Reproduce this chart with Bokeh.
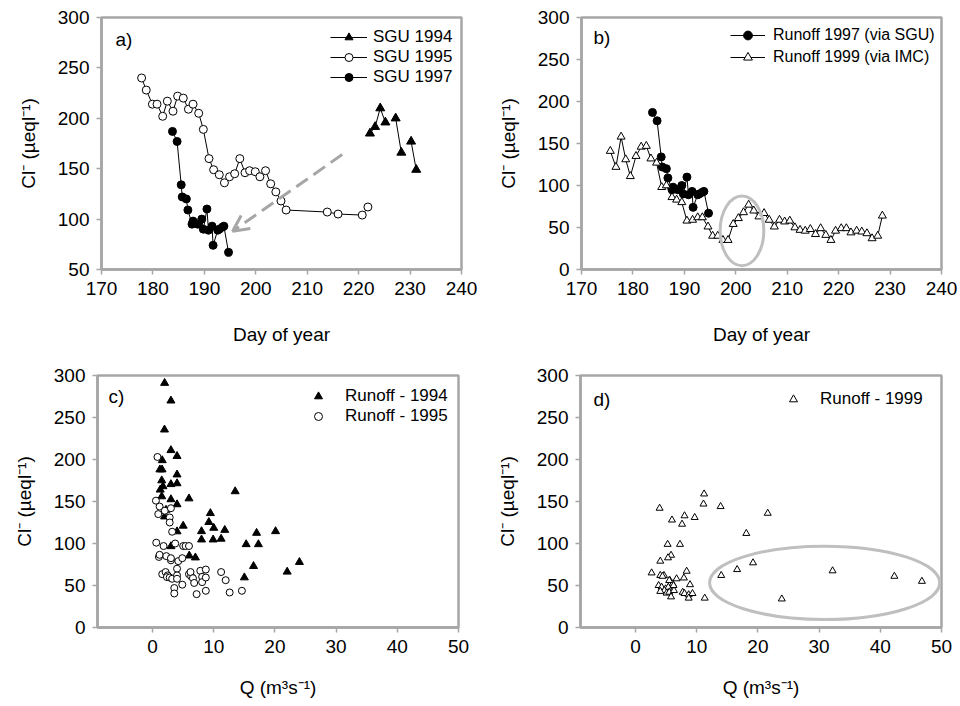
from bokeh.plotting import figure
from bokeh.layouts import column, row
from bokeh.models import Range1d, Legend, LegendItem, Label, Arrow, OpenHead, FixedTicker
from bokeh.embed import file_html
from bokeh.resources import INLINE

# ---------------- data ----------------
# panel a
sgu94_day = [222.2, 223.2, 224.2, 225.2, 227.2, 228.3, 230.2, 231.2]
sgu94_cl = [185, 191.5, 210, 196, 200, 166, 177, 149]
sgu94_seg = [0, 0, 0, 0, 1, 1, 2, 2]

sgu95_day = [177.8, 178.7, 179.9, 180.8, 181.9, 182.8, 183.9, 184.8, 185.9, 186.9, 187.8,
             188.9, 189.8, 190.9, 191.8, 192.9, 193.9, 194.9, 195.9, 196.9, 197.9, 198.8,
             199.9, 200.8, 201.9, 202.9, 203.9, 204.9, 205.9, 213.9, 216.0, 220.7, 221.8]
sgu95_cl = [240, 228, 214, 214, 202, 217, 207, 222, 220, 209, 214, 205, 189, 160, 149, 144,
            136, 142, 145, 160, 146, 148, 147, 142, 148, 135, 127, 118, 109, 107, 105, 104, 112]

sgu97_day = [183.8, 184.7, 185.5, 185.7, 186.5, 186.8, 187.6, 187.8, 188.7, 189.5, 189.8,
             190.5, 190.8, 191.5, 191.7, 192.6, 192.9, 193.5, 193.8, 194.7]
sgu97_cl = [187, 177, 134, 122, 120, 109, 95, 98, 95, 100, 90, 110, 89, 93, 74, 89, 90, 92, 93, 67]

# panel b
run99_day = [175.6, 176.7, 177.7, 178.6, 179.5, 180.6, 181.6, 182.6, 183.5, 184.6, 185.6,
             186.5, 187.6, 188.5, 189.5, 190.5, 191.6, 192.6, 193.5, 194.6, 195.5, 196.5,
             197.5, 198.5, 199.5, 200.5, 201.5, 202.5, 203.5, 204.5, 205.5, 206.5, 207.5,
             208.5, 209.5, 210.5, 211.5, 212.5, 213.5, 214.5, 215.5, 216.5, 217.5, 218.5,
             219.4, 220.5, 221.5, 222.4, 223.5, 224.5, 225.5, 226.5, 227.6, 228.5]
run99_cl = [141, 122, 158, 131, 111, 135, 146, 147, 132, 127, 98, 100, 86, 83, 80, 58, 59,
            62, 62, 51, 40, 40, 35, 35, 54, 61, 68, 77, 70, 63, 67, 59, 51, 59, 57, 58, 50,
            47, 46, 48, 42, 49, 41, 35, 46, 49, 49, 44, 46, 45, 43, 37, 40, 64]

# panel c
q94 = [1.97, 3.0, 1.95, 3.0, 4.0, 1.58, 1.2, 1.55, 4.0, 1.5, 3.0, 4.0, 1.7, 1.25, 1.5, 3.0,
       5.95, 4.0, 2.2, 1.97, 13.5, 9.45, 9.2, 10.0, 5.0, 4.0, 8.0, 11.8, 8.0, 9.9, 11.2, 17.0,
       20.1, 15.3, 17.3, 3.0, 6.0, 7.0, 16.5, 22.0, 24.0, 15.0]
cl94 = [291, 270, 235.5, 211, 204, 199, 188, 188, 182, 175, 170.5, 171.5, 168, 164, 156,
        152.5, 153.5, 146.5, 140, 132, 162, 136, 125.4, 118.5, 121, 114.3, 114.5, 116, 104.6,
        104.6, 105.5, 112.5, 114.5, 99, 99, 96.6, 85.5, 83.2, 73, 66.3, 77.8, 59.5]
q95 = [0.8, 0.55, 1.15, 0.93, 2.0, 3.0, 2.8, 2.8, 3.2, 0.6, 1.8, 3.7, 5.0, 5.4, 5.95, 1.04,
       1.15, 2.24, 3.0, 3.0, 4.2, 4.86, 4.0, 1.58, 2.13, 2.46, 2.35, 2.8, 3.2, 4.0, 4.0, 5.95,
       6.3, 6.2, 6.6, 6.8, 7.8, 8.1, 8.1, 8.7, 8.7, 11.2, 11.95, 4.86, 3.55, 3.55, 7.2, 8.7,
       12.6, 14.6]
cl95 = [203, 151, 144, 135, 139, 142, 131, 125, 114, 101, 97, 100, 97, 97, 97, 84, 86.5, 85,
        80, 82.5, 79, 82.5, 70, 63.5, 66, 62, 60, 59.5, 58, 62, 58, 63.5, 61, 66, 58.7, 53,
        67.5, 60.3, 54, 69, 59.5, 66, 56.3, 51, 47, 40.5, 39.7, 43.7, 41.7, 43.7]

# panel d
q99 = [3.93, 5.95, 7.6, 8.0, 9.66, 11.1, 11.2, 13.9, 21.6, 18.1, 5.24, 7.26, 5.8, 5.3, 4.04,
       2.62, 4.04, 4.64, 8.35, 7.9, 6.7, 5.6, 6.06, 8.9, 3.77, 4.26, 4.9, 5.35, 4.7, 4.04, 5.08,
       5.5, 6.28, 5.8, 7.7, 8.0, 8.68, 9.3, 8.68, 11.3, 14.0, 16.6, 19.2, 23.9, 32.2, 42.3,
       46.8, 5.5, 6.2, 4.4]
cl99 = [142, 128, 123, 133, 131, 147, 159, 144, 136, 112, 99, 99, 86, 83, 79, 65, 62, 62, 67,
        59, 58, 56, 52, 51, 50, 48, 46, 48, 44, 43, 41, 42, 44, 36.5, 42, 40.5, 39, 40.5, 35,
        35, 62, 69, 77, 34, 67.5, 61, 55, 56, 50, 61]

# annotations (data units)
arrow_from = (216.8, 164)
arrow_to = (195.5, 88)
ellipse_b = dict(x=201.2, y=46, w=8.5, h=83)
ellipse_d = dict(x=30.9, y=53.2, w=37.6, h=87.3)

# ---------------- style ----------------
FONT = "Liberation Sans"
GRAY = "#a6a6a6"
TICK_FS = "19px"
LAB_FS = "19px"
LEG_FS = "17px"
Y_LABEL = "Cl\u207b (\u00b5eql\u207b\u00b9)"


def make_fig(xr, yr, xticks, yticks, xlabel, fw, bl, br, bt, bb, xstand):
    p = figure(frame_width=fw, frame_height=252, x_range=Range1d(*xr), y_range=Range1d(*yr),
               output_backend="svg", toolbar_location=None,
               min_border_left=bl, min_border_right=br, min_border_top=bt, min_border_bottom=bb)
    p.grid.visible = False
    p.outline_line_color = GRAY
    p.outline_line_width = 2.5
    p.background_fill_color = "white"
    p.border_fill_color = "white"
    p.xaxis.ticker = FixedTicker(ticks=xticks)
    p.yaxis.ticker = FixedTicker(ticks=yticks)
    for ax in (p.xaxis[0], p.yaxis[0]):
        ax.axis_line_color = GRAY
        ax.axis_line_width = 2.5
        ax.major_tick_line_color = GRAY
        ax.major_tick_line_width = 1.5
        ax.major_tick_out = 5
        ax.major_tick_in = 0
        ax.minor_tick_line_color = None
        ax.major_label_text_font = FONT
        ax.major_label_text_font_size = TICK_FS
        ax.major_label_text_color = "black"
        ax.major_label_standoff = 7
        ax.axis_label_text_font = FONT
        ax.axis_label_text_font_size = LAB_FS
        ax.axis_label_text_font_style = "normal"
        ax.axis_label_text_color = "black"
    p.xaxis.axis_label = xlabel
    p.xaxis.axis_label_standoff = xstand
    p.yaxis.axis_label = Y_LABEL
    p.yaxis.axis_label_standoff = 16
    return p


def panel_label(p, text, x, y_from_top):
    p.add_layout(Label(x=x, y=252 - y_from_top, x_units="screen", y_units="screen", text=text,
                       text_font=FONT, text_font_size=LAB_FS, text_baseline="middle",
                       text_color="black"))


def make_legend(items, x, y, gw, gh, standoff, fs=LEG_FS):
    return Legend(items=items, location=(x, y), border_line_color=None,
                  background_fill_alpha=0, padding=0, spacing=0, margin=0,
                  glyph_width=gw, glyph_height=gh, label_height=gh, label_standoff=standoff,
                  label_text_font=FONT, label_text_font_size=fs, label_text_color="black")


days = [170, 180, 190, 200, 210, 220, 230, 240]
qt = [0, 10, 20, 30, 40, 50]

# ---------- panel a ----------
pa = make_fig((170, 240), (50, 300), days, [50, 100, 150, 200, 250, 300], "Day of year",
              360, 101, 19, 17, 84, 26)
seg_lines = []
for s in sorted(set(sgu94_seg)):
    xs = [d for d, g in zip(sgu94_day, sgu94_seg) if g == s]
    ys = [c for c, g in zip(sgu94_cl, sgu94_seg) if g == s]
    seg_lines.append(pa.line(xs, ys, line_color="black", line_width=1))
m94 = pa.scatter(sgu94_day, sgu94_cl, marker="triangle", size=9, fill_color="black",
                 line_color="black")
l95 = pa.line(sgu95_day, sgu95_cl, line_color="black", line_width=1)
m95 = pa.scatter(sgu95_day, sgu95_cl, marker="circle", size=8, fill_color="white",
                 line_color="black", line_width=1)
l97 = pa.line(sgu97_day, sgu97_cl, line_color="black", line_width=1)
m97 = pa.scatter(sgu97_day, sgu97_cl, marker="circle", size=8, fill_color="black",
                 line_color="black")
pa.add_layout(Arrow(x_start=arrow_from[0], y_start=arrow_from[1], x_end=arrow_to[0],
                    y_end=arrow_to[1], line_color=GRAY, line_width=3, line_dash="14 7",
                    end=OpenHead(size=16, line_color=GRAY, line_width=3)))
pa.add_layout(make_legend([LegendItem(label="SGU 1994", renderers=[seg_lines[0], m94]),
                           LegendItem(label="SGU 1995", renderers=[l95, m95]),
                           LegendItem(label="SGU 1997", renderers=[l97, m97])],
                          229, 182, 37, 20, 6))
panel_label(pa, "a)", 14, 22)

# ---------- panel b ----------
pb = make_fig((170, 240), (0, 300), days, [0, 50, 100, 150, 200, 250, 300], "Day of year",
              360, 101, 17, 17, 84, 26)
lb97 = pb.line(sgu97_day, sgu97_cl, line_color="black", line_width=1)
mb97 = pb.scatter(sgu97_day, sgu97_cl, marker="circle", size=8, fill_color="black",
                  line_color="black")
lb99 = pb.line(run99_day, run99_cl, line_color="black", line_width=1)
mb99 = pb.scatter(run99_day, run99_cl, marker="triangle", size=8, fill_color="white",
                  line_color="black", line_width=1)
pb.ellipse(x=[ellipse_b["x"]], y=[ellipse_b["y"]], width=[ellipse_b["w"]],
           height=[ellipse_b["h"]], fill_color=None, line_color="#bfbfbf", line_width=3)
pb.add_layout(make_legend([LegendItem(label="Runoff 1997 (via SGU)", renderers=[lb97, mb97]),
                           LegendItem(label="Runoff 1999 (via IMC)", renderers=[lb99, mb99])],
                          149, 201, 35, 22, 8, fs="16px"))
panel_label(pb, "b)", 12, 20)

# ---------- panel c ----------
pc = make_fig((-9, 50), (0, 300), qt, [0, 50, 100, 150, 200, 250, 300],
              "Q (m\u00b3s\u207b\u00b9)", 361, 97, 22, 22, 78, 21)
mc94 = pc.scatter(q94, cl94, marker="triangle", size=8, fill_color="black", line_color="black")
mc95 = pc.scatter(q95, cl95, marker="circle", size=7, fill_color="white", line_color="black",
                  line_width=1)
pc.add_layout(make_legend([LegendItem(label="Runoff - 1994", renderers=[mc94]),
                           LegendItem(label="Runoff - 1995", renderers=[mc95])],
                          211, 201, 20, 20, 17))
panel_label(pc, "c)", 11, 21)

# ---------- panel d ----------
pd_ = make_fig((-9, 50), (0, 300), qt, [0, 50, 100, 150, 200, 250, 300],
               "Q (m\u00b3s\u207b\u00b9)", 361, 100, 17, 22, 78, 21)
md99 = pd_.scatter(q99, cl99, marker="triangle", size=7, fill_color="white",
                   line_color="black", line_width=1)
pd_.ellipse(x=[ellipse_d["x"]], y=[ellipse_d["y"]], width=[ellipse_d["w"]],
            height=[ellipse_d["h"]], fill_color=None, line_color="#bfbfbf", line_width=3)
pd_.add_layout(make_legend([LegendItem(label="Runoff - 1999", renderers=[md99])],
                           203, 218, 20, 20, 17))
panel_label(pd_, "d)", 13, 24)

layout = column(row(pa, pb), row(pc, pd_))
open("out.html", "w").write(file_html(layout, INLINE))
